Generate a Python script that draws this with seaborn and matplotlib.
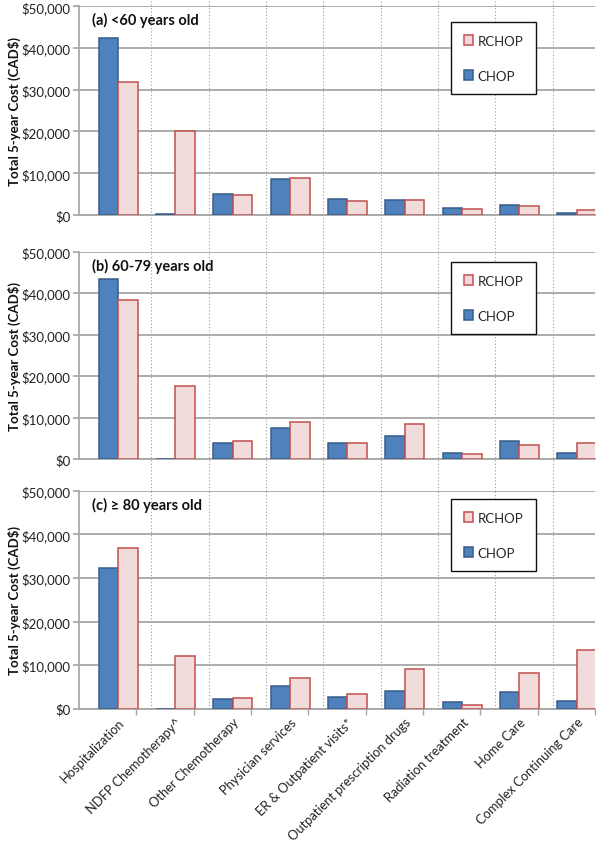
import matplotlib
matplotlib.use("Agg")
import matplotlib.pyplot as plt
from matplotlib.patches import Patch
from matplotlib.ticker import FuncFormatter
import numpy as np
import pandas as pd
import seaborn as sns

categories = ["Hospitalization", "NDFP Chemotherapy^", "Other Chemotherapy",
              "Physician services", "ER & Outpatient visits*",
              "Outpatient prescription drugs", "Radiation treatment",
              "Home Care", "Complex Continuing Care"]
panel_titles = ["(a) <60 years old", "(b) 60-79 years old", "(c) \u2265 80 years old"]

# cost per category, CAD$
chop_lt60 = [42500, 150, 5000, 8600, 3750, 3500, 1750, 2400, 400]
rchop_lt60 = [31800, 20200, 4750, 8800, 3350, 3500, 1450, 2080, 1100]
chop_60_79 = [43300, 150, 3900, 7550, 3850, 5600, 1450, 4400, 1600]
rchop_60_79 = [38300, 17600, 4300, 9000, 3900, 8600, 1200, 3400, 3950]
chop_ge80 = [32200, 0, 2150, 5300, 2600, 4100, 1600, 3900, 1850]
rchop_ge80 = [36900, 12200, 2400, 7000, 3350, 9200, 900, 8200, 13400]

panels = [(chop_lt60, rchop_lt60), (chop_60_79, rchop_60_79), (chop_ge80, rchop_ge80)]

fill = {"CHOP": "#4f81bd", "RCHOP": "#f2dcdb"}
edge = {"CHOP": "#385d8a", "RCHOP": "#c0504d"}

sns.set_theme(style="white")
plt.rcParams["font.family"] = ["Lato", "DejaVu Sans"]

fig = plt.figure(figsize=(6, 8.45), dpi=100)
# axes boxes in figure fractions: left, bottom, width, height
boxes = [(0.1317, 0.7444, 0.86, 0.247),
         (0.1317, 0.4553, 0.86, 0.2457),
         (0.1317, 0.1601, 0.86, 0.258)]
legend_tops = [(451 / 600, 1 - 23 / 845), (451 / 600, 1 - 263 / 845), (451 / 600, 1 - 500 / 845)]
dot_extent = [(-0.176, 1.035), (-0.151, 1.0), (0.0, 1.0)]

money = FuncFormatter(lambda v, p: "${:,.0f}".format(v))
grid_col = "#a6a6a6"

for i, ((chop, rchop), box) in enumerate(zip(panels, boxes)):
    ax = fig.add_axes(box)
    df = pd.DataFrame({
        "category": categories * 2,
        "cost": chop + rchop,
        "regimen": ["CHOP"] * len(categories) + ["RCHOP"] * len(categories),
    })
    sns.barplot(data=df, x="category", y="cost", hue="regimen",
                hue_order=["CHOP", "RCHOP"], order=categories,
                palette=fill, width=0.68, gap=0, legend=False,
                linewidth=1.1, saturation=1, ax=ax, zorder=3)
    for cont, reg in zip(ax.containers, ["CHOP", "RCHOP"]):
        for bar in cont:
            bar.set_edgecolor(edge[reg])
            bar.set_linewidth(1.1)

    ax.set_ylim(0, 50000)
    ax.set_xlim(-0.68, 8.32)
    ax.set_yticks(np.arange(0, 50001, 10000))
    ax.yaxis.set_major_formatter(money)
    ax.yaxis.grid(True, color=grid_col, linewidth=1.3)
    ax.set_axisbelow(True)
    for s in ["top", "right"]:
        ax.spines[s].set_visible(False)
    ax.spines["left"].set_color(grid_col)
    ax.spines["bottom"].set_color(grid_col)
    ax.spines["bottom"].set_linewidth(1.3)
    ax.tick_params(axis="y", left=True, length=4, color=grid_col, labelsize=9.5,
                   labelcolor="#222222", pad=2)

    # dotted separators
    lo, hi = dot_extent[i]
    for k in range(8):
        ax.plot([k + 0.58, k + 0.58], [lo, hi], transform=ax.get_xaxis_transform(),
                color="#9a9a9a", linestyle=(0, (1, 2)), linewidth=0.8,
                clip_on=False, zorder=0.5)

    ax.set_ylabel("Total 5-year Cost (CAD$)", fontsize=9.5, fontweight="bold",
                  color="#111111")
    ax.yaxis.set_label_coords(-0.112, 0.5)
    ax.set_xlabel("")
    ax.text(0.025, 0.935, panel_titles[i], transform=ax.transAxes, fontsize=10.5,
            fontweight="bold", va="center", ha="left", color="#111111")

    handles = [Patch(facecolor=fill["RCHOP"], edgecolor=edge["RCHOP"], linewidth=1.1),
               Patch(facecolor=fill["CHOP"], edgecolor=edge["CHOP"], linewidth=1.1)]
    leg = ax.legend(handles, ["RCHOP", "CHOP"], loc="upper left",
                    bbox_to_anchor=legend_tops[i], bbox_transform=fig.transFigure,
                    frameon=True, fancybox=False, framealpha=1, edgecolor="#111111",
                    fontsize=9.5, handlelength=0.75, handleheight=0.75,
                    handletextpad=0.3, labelspacing=1.75, borderpad=0.95,
                    borderaxespad=0)
    leg.get_frame().set_linewidth(1.0)

    if i < 2:
        ax.set_xticks(range(len(categories)))
        ax.set_xticklabels([])
        ax.tick_params(axis="x", bottom=False)
    else:
        ax.set_xticks(range(len(categories)))
        ax.set_xticklabels(categories, rotation=45, ha="right",
                           rotation_mode="anchor", fontsize=9.3, color="#222222")
        ax.tick_params(axis="x", which="major", length=0, pad=5)
        ax.set_xticks([k - 0.68 for k in range(1, 10)], minor=True)
        ax.tick_params(axis="x", which="minor", bottom=True, length=4,
                       color=grid_col, width=1)

fig.savefig("out.png", dpi=100)
